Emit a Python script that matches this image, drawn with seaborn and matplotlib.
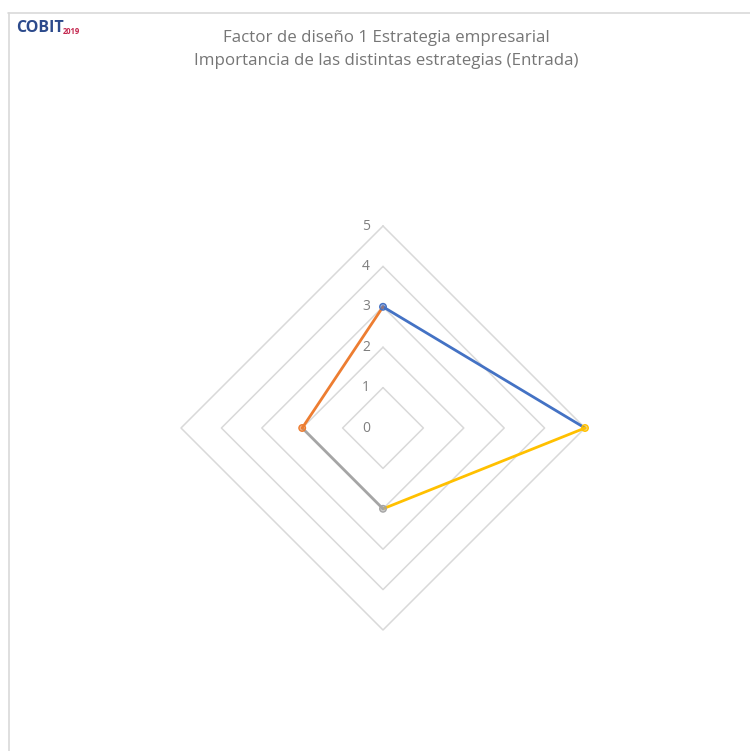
import numpy as np
import pandas as pd
import matplotlib
matplotlib.use("Agg")
import matplotlib.pyplot as plt
from matplotlib.lines import Line2D
import seaborn as sns

# ---- data ----
categories = ["Crecimiento/Adquisición", "Innovación/Diferenciación",
              "Liderazgo en costes", "Servicio al cliente/Estabilidad"]
values = [3, 5, 2, 2]
point_colors = ["#4472C4", "#FFC000", "#A5A5A5", "#ED7D31"]
r_ticks = [0, 1, 2, 3, 4, 5]
title_lines = ["Factor de diseño 1 Estrategia empresarial",
               "Importancia de las distintas estrategias (Entrada)"]

sns.set_theme(style="white")
plt.rcParams["font.family"] = ["Open Sans", "DejaVu Sans"]

W, H = 750, 751
fig = plt.figure(figsize=(W / 100, H / 100), dpi=100)
fig.patch.set_facecolor("white")

cx, cy, rad = 383, 428, 202
ax = fig.add_axes([(cx - rad) / W, (H - cy - rad) / H, 2 * rad / W, 2 * rad / H],
                  projection="polar")
ax.set_theta_offset(np.pi / 2)
ax.set_theta_direction(-1)
ax.set_ylim(0, max(r_ticks))
ax.grid(False)
ax.spines["polar"].set_visible(False)
ax.set_xticks([])
ax.set_yticks([])
ax.set_facecolor("none")

n = len(categories)
angles = np.linspace(0, 2 * np.pi, n, endpoint=False)

# diamond grid
closed = np.append(angles, angles[0])
for lv in r_ticks[1:]:
    ax.plot(closed, [lv] * (n + 1), color="#D9D9D9", lw=1.1, zorder=1, clip_on=False)

# tick labels
for lv in r_ticks:
    ax.annotate(str(lv), xy=(0, lv), xytext=(-17, 0), textcoords="offset pixels",
                ha="center", va="center", fontsize=10, color="#7F7F7F")

# segments colored by their starting point
rows = []
for i in range(n):
    j = (i + 1) % n
    rows.append(dict(theta=angles[i], r=values[i], seg=i, order=0))
    rows.append(dict(theta=angles[j] if j != 0 else 2 * np.pi, r=values[j], seg=i, order=1))
seg_df = pd.DataFrame(rows)
sns.lineplot(data=seg_df, x="theta", y="r", hue="seg", palette=point_colors,
             sort=False, estimator=None, units="seg", ax=ax, legend=False,
             linewidth=2.0, zorder=3)
for ln in ax.lines:
    ln.set_clip_on(False)

pts = pd.DataFrame(dict(theta=angles, r=values, cat=categories))
sns.scatterplot(data=pts, x="theta", y="r", hue="cat", palette=point_colors,
                ax=ax, legend=False, s=22, edgecolor=point_colors, linewidth=1.0, zorder=4)
sc = ax.collections[-1]
sc.set_facecolor([matplotlib.colors.to_rgba(c, 0.55) for c in point_colors])
sc.set_clip_on(False)
ax.set_xlabel("")
ax.set_ylabel("")
ax.set_ylim(0, max(r_ticks))

# title
fig.text(386 / W, 1 - 38 / H, title_lines[0], ha="center", va="center",
         fontsize=12.2, color="#767676")
fig.text(386 / W, 1 - 61 / H, title_lines[1], ha="center", va="center",
         fontsize=12.2, color="#767676")

# logo
fig.text(16 / W, 1 - 28 / H, "COBIT", ha="left", va="center", fontsize=11.5,
         fontweight="bold", color="#2C4A8C")
fig.text(63 / W, 1 - 31 / H, "2019", ha="left", va="center", fontsize=5.5,
         fontweight="bold", color="#C4284F")

# frame
fig.add_artist(Line2D([8 / W, 1], [1 - 13 / H, 1 - 13 / H], transform=fig.transFigure,
                      color="#D9D9D9", lw=1.2))
fig.add_artist(Line2D([9 / W, 9 / W], [0, 1 - 13 / H], transform=fig.transFigure,
                      color="#D9D9D9", lw=1.2))

fig.savefig("out.png", dpi=100, facecolor="white")
